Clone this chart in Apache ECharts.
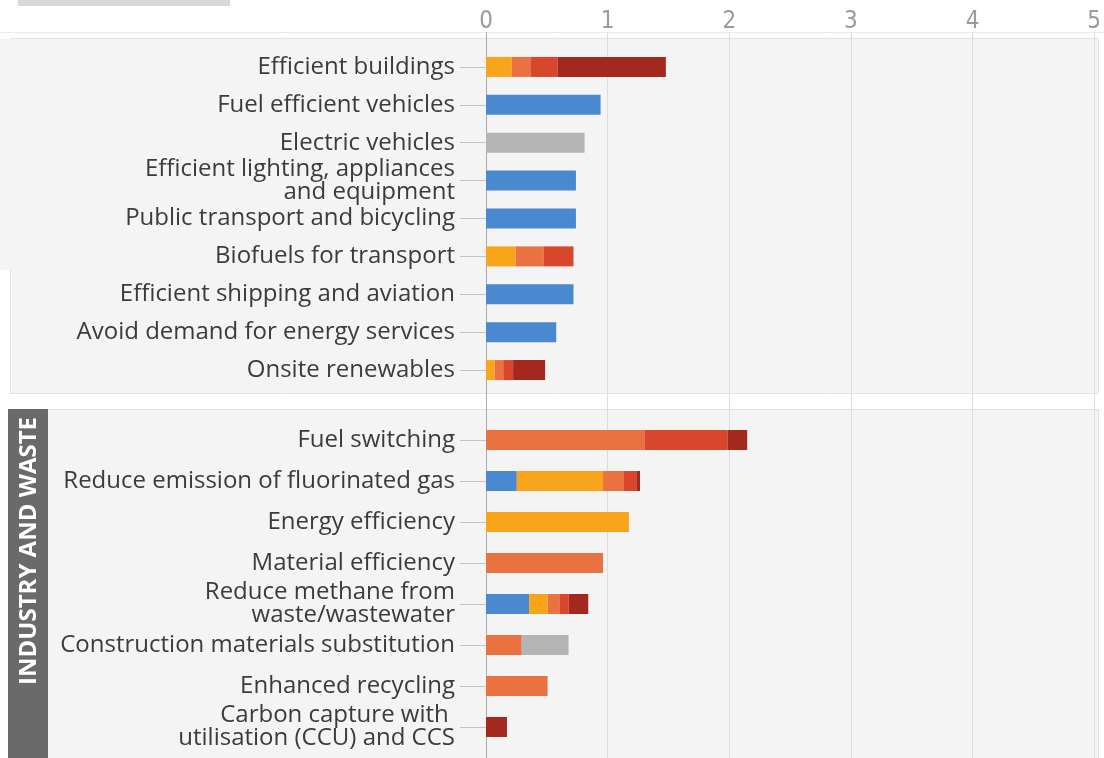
<!DOCTYPE html>
<html>
<head>
<meta charset="utf-8">
<script src="https://cdn.jsdelivr.net/npm/echarts@6/dist/echarts.min.js"></script>
<style>
html,body{margin:0;padding:0;background:#fff;}
#chart{width:1104px;height:758px;}
</style>
</head>
<body>
<div id="chart"></div>
<script>
// ---- data ----
var tickLabels = ['0', '1', '2', '3', '4', '5'];

var categoriesTop = [
  'Efficient buildings',
  'Fuel efficient vehicles',
  'Electric vehicles',
  'Efficient lighting, appliances\nand equipment',
  'Public transport and bicycling',
  'Biofuels for transport',
  'Efficient shipping and aviation',
  'Avoid demand for energy services',
  'Onsite renewables'
];
// segment widths (GtCO2-eq/yr) per cost band
var topBlue      = [0,    0.93, 0,    0.73, 0.73, 0,    0.71, 0.57, 0];
var topYellow    = [0.21, 0,    0,    0,    0,    0.24, 0,    0,    0.07];
var topLtOrange  = [0.15, 0,    0,    0,    0,    0.23, 0,    0,    0.07];
var topRedOrange = [0.22, 0,    0,    0,    0,    0.24, 0,    0,    0.08];
var topDarkRed   = [0.88, 0,    0,    0,    0,    0,    0,    0,    0.26];
var topGray      = [0,    0,    0.80, 0,    0,    0,    0,    0,    0];

var categoriesInd = [
  'Fuel switching',
  'Reduce emission of fluorinated gas',
  'Energy efficiency',
  'Material efficiency',
  'Reduce methane from\nwaste/wastewater',
  'Construction materials substitution',
  'Enhanced recycling',
  'Carbon capture with \nutilisation (CCU) and CCS'
];
var indBlue      = [0,    0.25, 0,    0,    0.35, 0,    0,    0];
var indYellow    = [0,    0.70, 1.16, 0,    0.15, 0,    0,    0];
var indLtOrange  = [1.29, 0.17, 0,    0.95, 0.10, 0.29, 0.50, 0];
var indRedOrange = [0.67, 0.10, 0,    0,    0.07, 0,    0,    0];
var indDarkRed   = [0.16, 0.03, 0,    0,    0.16, 0,    0,    0.17];
var indGray      = [0,    0,    0,    0,    0,    0.38, 0,    0];

var sectorLabel = 'INDUSTRY AND WASTE';

// ---- styles ----
var COLORS = {
  blue: '#4a89cf', yellow: '#f9a51b', lto: '#ea7241',
  rdo: '#d8472c', dkr: '#a3291f', gray: '#b4b4b4'
};
var FONT = '"Open Sans", "Noto Sans", sans-serif';

function mkSeries(name, data, color, idx) {
  return {
    name: name, type: 'bar', stack: 's' + idx,
    xAxisIndex: idx, yAxisIndex: idx,
    data: data.map(function (v) { return v === 0 ? null : v; }),
    barWidth: 20,
    itemStyle: { color: color },
    silent: true
  };
}

function catAxis(idx, cats) {
  return {
    type: 'category', gridIndex: idx, data: cats, inverse: true,
    axisLine: { show: false },
    axisTick: { show: true, alignWithLabel: true, length: 26, lineStyle: { color: '#c4c4c4', width: 1 } },
    axisLabel: { margin: 31, color: '#3b3b3b', fontSize: 24, fontFamily: FONT, lineHeight: 23, align: 'right' }
  };
}

var chart = echarts.init(document.getElementById('chart'));
var option = {
  animation: false,
  backgroundColor: '#ffffff',
  graphic: [
    { type: 'rect', z: -10, shape: { x: 18, y: 0, width: 212, height: 6 }, style: { fill: '#d9d9d9' } },
    { type: 'line', z: -10, shape: { x1: 0, y1: 32.5, x2: 1104, y2: 32.5 }, style: { stroke: '#ebebeb', lineWidth: 1 } },
    { type: 'rect', z: -10, shape: { x: 10.5, y: 38.5, width: 1088, height: 355 }, style: { fill: '#f4f4f4', stroke: '#e2e2e2', lineWidth: 1 } },
    { type: 'rect', z: -9, shape: { x: 0, y: 39, width: 12, height: 231 }, style: { fill: '#f4f4f4' } },
    { type: 'rect', z: -10, shape: { x: 8.5, y: 409.5, width: 1090, height: 360 }, style: { fill: '#f4f4f4', stroke: '#e2e2e2', lineWidth: 1 } },
    { type: 'rect', z: 5, shape: { x: 8, y: 409, width: 40, height: 360 }, style: { fill: '#6a6a6a' } },
    { type: 'text', z: 6, x: 29, y: 417, rotation: Math.PI / 2,
      style: { text: sectorLabel, fill: '#ffffff', font: '700 24px ' + FONT, align: 'right', verticalAlign: 'middle' } }
  ],
  grid: [
    { left: 486, right: 2, top: 32, bottom: 0 },
    { left: 486, right: 2, top: 48, height: 341 },
    { left: 486, right: 2, top: 419.5, height: 328 }
  ],
  xAxis: [
    { type: 'value', gridIndex: 0, position: 'top', min: 0, max: 5, interval: 1,
      axisLine: { show: false }, axisTick: { show: false },
      axisLabel: { margin: -2, color: '#9b9b9b', fontSize: 24, fontFamily: '"DejaVu Sans Condensed", "Liberation Sans Narrow", ' + FONT,
        formatter: function (v) { return tickLabels[Math.round(v)]; } },
      splitLine: { show: true, lineStyle: { color: ['#a9a9a9', '#dcdcdc', '#dcdcdc', '#dcdcdc', '#dcdcdc', '#dcdcdc'], width: 1 } }
    },
    { type: 'value', gridIndex: 1, min: 0, max: 5, show: false, splitLine: { show: false } },
    { type: 'value', gridIndex: 2, min: 0, max: 5, show: false, splitLine: { show: false } }
  ],
  yAxis: [
    { type: 'value', gridIndex: 0, show: false, min: 0, max: 1, splitLine: { show: false } },
    catAxis(1, categoriesTop),
    catAxis(2, categoriesInd)
  ],
  series: [
    mkSeries('blue', topBlue, COLORS.blue, 1),
    mkSeries('yellow', topYellow, COLORS.yellow, 1),
    mkSeries('lto', topLtOrange, COLORS.lto, 1),
    mkSeries('rdo', topRedOrange, COLORS.rdo, 1),
    mkSeries('dkr', topDarkRed, COLORS.dkr, 1),
    mkSeries('gray', topGray, COLORS.gray, 1),
    mkSeries('blue', indBlue, COLORS.blue, 2),
    mkSeries('yellow', indYellow, COLORS.yellow, 2),
    mkSeries('lto', indLtOrange, COLORS.lto, 2),
    mkSeries('rdo', indRedOrange, COLORS.rdo, 2),
    mkSeries('dkr', indDarkRed, COLORS.dkr, 2),
    mkSeries('gray', indGray, COLORS.gray, 2)
  ]
};
chart.setOption(option);
</script>
</body>
</html>
